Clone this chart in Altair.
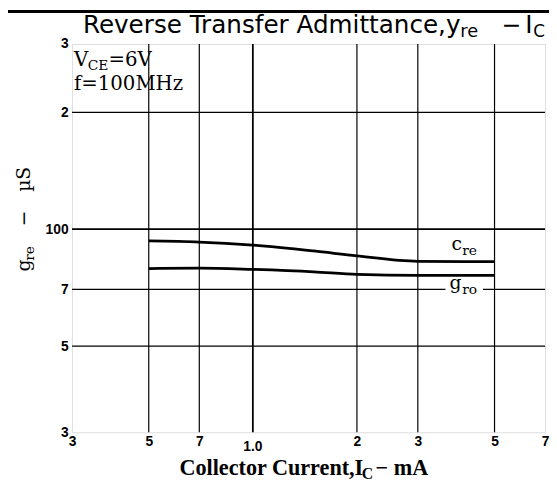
import altair as alt
import pandas as pd

# ---- data ----
ic_cre = [0.5, 0.7, 1.0, 1.5, 2.0, 3.0, 5.0]
cre = [9.33, 9.27, 9.10, 8.79, 8.54, 8.27, 8.25]
ic_gro = [0.5, 0.7, 1.0, 1.5, 2.0, 3.0, 5.0]
gro = [7.92, 7.94, 7.88, 7.77, 7.65, 7.61, 7.61]

x_ticks = [0.3, 0.5, 0.7, 1.0, 2.0, 3.0, 5.0, 7.0]
x_tick_labels = ["3", "5", "7", "", "2", "3", "5", "7"]
y_ticks = [3, 5, 7, 10, 20, 30]
y_tick_labels = ["3", "5", "7", "100", "2", "3"]
x_grid = [0.5, 0.7, 2.0, 3.0, 5.0]
x_grid_major = [1.0]
y_grid = [5, 7, 20]
y_grid_major = [10]

W, H = 480, 394
SERIF = "DejaVu Serif"
SANS = "DejaVu Sans"


def expr_map(vals, labels):
    e = "''"
    for v, l in zip(vals, labels):
        e = f"abs(datum.value - {v}) < 1e-6 ? '{l}' : ({e})"
    return e


xscale = alt.Scale(type="log", domain=[0.3, 7], nice=False, zero=False)
yscale = alt.Scale(type="log", domain=[3, 30], nice=False, zero=False)

curves = pd.DataFrame(
    {"ic": ic_cre + ic_gro, "v": cre + gro,
     "s": ["cre"] * len(ic_cre) + ["gro"] * len(ic_gro)}
)

base_lines = alt.Chart(curves).mark_line(
    color="black", strokeWidth=2.8, interpolate="monotone"
).encode(
    x=alt.X("ic:Q", scale=xscale,
            axis=alt.Axis(values=x_ticks, labelExpr=expr_map(x_ticks, x_tick_labels),
                          title=None, grid=False, ticks=False, domain=False,
                          labelFont="Liberation Sans", labelFontWeight="bold",
                          labelFontSize=14, labelPadding=2, labelColor="black",
                          labelFlush=False, labelOverlap=False)),
    y=alt.Y("v:Q", scale=yscale,
            axis=alt.Axis(values=y_ticks, labelExpr=expr_map(y_ticks, y_tick_labels),
                          title=None, grid=False, ticks=False, domain=False,
                          labelFont="Liberation Sans", labelFontWeight="bold",
                          labelFontSize=14, labelPadding=4, labelColor="black",
                          labelFlush=False, labelOverlap=False)),
    detail="s:N",
)

vgrid = alt.Chart(pd.DataFrame({"x": x_grid})).mark_rule(
    color="black", strokeWidth=1.2).encode(x=alt.X("x:Q", scale=xscale))
vgrid_major = alt.Chart(pd.DataFrame({"x": x_grid_major})).mark_rule(
    color="black", strokeWidth=1.8).encode(x=alt.X("x:Q", scale=xscale))
hgrid = alt.Chart(pd.DataFrame({"y": y_grid})).mark_rule(
    color="black", strokeWidth=1.2).encode(y=alt.Y("y:Q", scale=yscale))
hgrid_major = alt.Chart(pd.DataFrame({"y": y_grid_major})).mark_rule(
    color="black", strokeWidth=1.8).encode(y=alt.Y("y:Q", scale=yscale))

one_label = alt.Chart(pd.DataFrame({"x": [1.0], "t": ["1.0"]})).mark_text(
    font="Liberation Sans", fontWeight="bold", fontSize=14, baseline="top",
    color="black").encode(x=alt.X("x:Q", scale=xscale), y=alt.value(H + 8), text="t:N")

# white gap in the 7 gridline behind the g_ro label
gap = alt.Chart(pd.DataFrame({"a": [0]})).mark_rect(color="white").encode(
    x=alt.value(452 - 73), x2=alt.value(490 - 73),
    y=alt.value(282 - 41), y2=alt.value(296 - 41))

# page coords -> view coords : x - 73, y - 41
def txt(t, xp, yp, size, font, weight="normal", angle=0):
    return alt.Chart(pd.DataFrame({"t": [t]})).mark_text(
        align="left", baseline="alphabetic", font=font, fontSize=size,
        fontWeight=weight, angle=angle, color="black").encode(
        x=alt.value(xp - 73), y=alt.value(yp - 41), text="t:N")

texts = [
    # title
    txt("Reverse Transfer Admittance,y", 84, 30, 25, SANS),
    txt("re", 467, 34, 18, SANS),
    txt("\u2212", 509, 30, 24, SANS),
    txt("I", 533, 30, 25, SANS),
    txt("C", 541, 34, 17, SANS),
    # conditions
    txt("V", 75, 63, 20, SERIF),
    txt("CE", 89, 67, 14, SERIF),
    txt("=6V", 110, 63, 20, SERIF),
    txt("f=100MHz", 75, 88, 20, SERIF),
    # curve labels
    txt("c", 458, 250, 19, SERIF),
    txt("re", 469, 255, 14, SERIF),
    txt("g", 456, 290, 19, SERIF),
    txt("ro", 469, 295, 14, SERIF),
    # x title
    txt("Collector Current,I", 182, 478, 22.5, "Liberation Serif", "bold"),
    txt("C", 367, 482, 16, "Liberation Serif", "bold"),
    txt("\u2212 mA", 381, 478, 22.5, "Liberation Serif", "bold"),
    # y title (rotated)
    txt("g", 30, 272, 19, SERIF, angle=270),
    txt("re", 34, 261, 14, SERIF, angle=270),
    txt("\u2212", 30, 226, 19, SERIF, angle=270),
    txt("\u00b5S", 30, 191, 19, SERIF, angle=270),
]

topline = alt.Chart(pd.DataFrame({"a": [0]})).mark_rule(
    color="black", strokeWidth=3).encode(
    x=alt.value(-65), x2=alt.value(W + 4), y=alt.value(-33))

chart = alt.layer(
    vgrid, vgrid_major, hgrid, hgrid_major, gap, base_lines, one_label, topline, *texts
).properties(
    width=W, height=H,
    autosize=alt.AutoSizeParams(type="none"),
    padding={"left": 65, "top": 33, "right": 4, "bottom": 48},
).configure_view(stroke="black", strokeWidth=2).configure(background="white")

chart.save("out.html", embed_options={"renderer": "svg", "actions": False})
